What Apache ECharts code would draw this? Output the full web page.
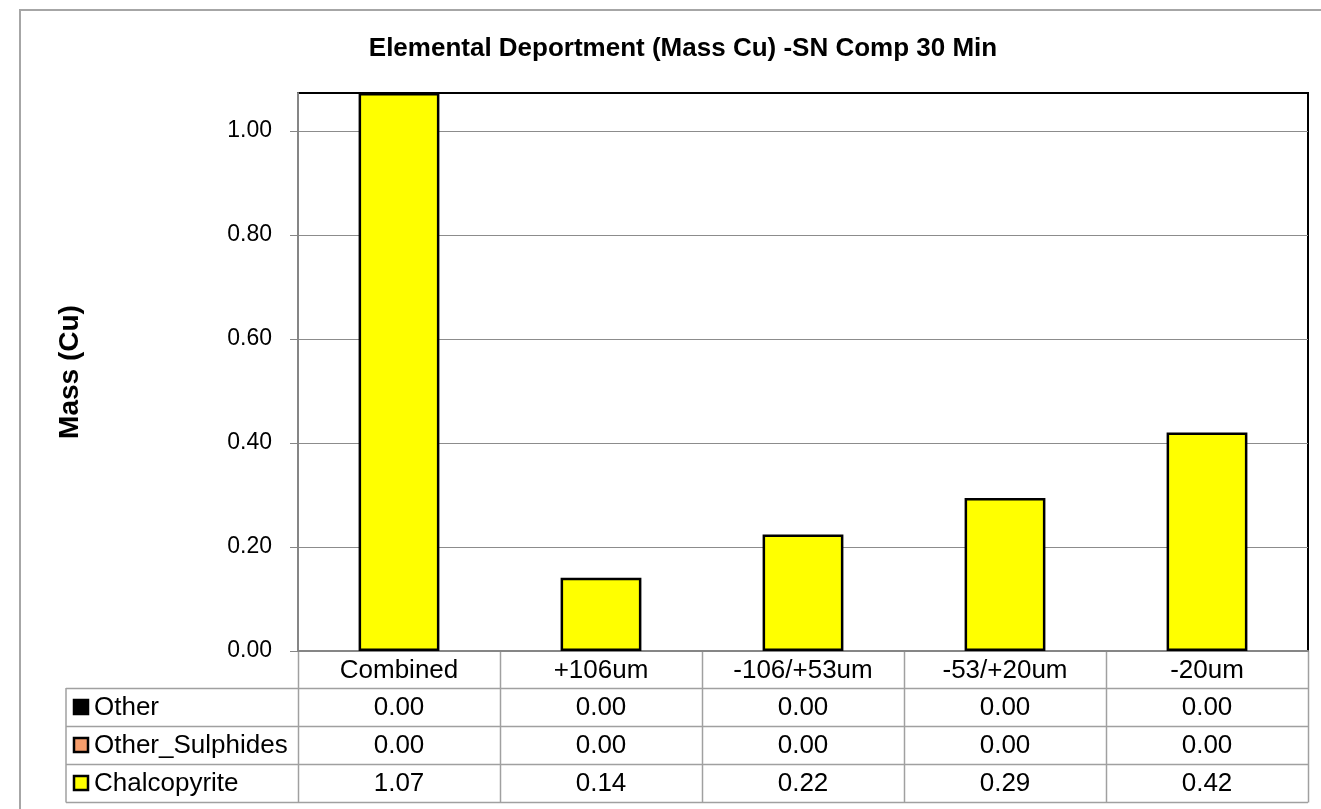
<!DOCTYPE html>
<html><head><meta charset="utf-8">
<script src="https://cdn.jsdelivr.net/npm/echarts@6/dist/echarts.min.js"></script>
<style>html,body{margin:0;padding:0;background:#fff}#c{width:1321px;height:809px}</style>
</head><body><div id="c"></div>
<script>
const categories = ['Combined', '+106um', '-106/+53um', '-53/+20um', '-20um'];
const other = [0.00, 0.00, 0.00, 0.00, 0.00];
const otherSulphides = [0.00, 0.00, 0.00, 0.00, 0.00];
const chalcopyrite = [1.073, 0.141, 0.224, 0.294, 0.420];
const seriesNames = ['Other', 'Other_Sulphides', 'Chalcopyrite'];
const seriesColors = ['#000000', '#F79E6C', '#FFFF00'];
const yTicks = [0, 0.2, 0.4, 0.6, 0.8, 1.0];

const FONT = '"Liberation Sans", Arial, sans-serif';
const G = {left: 298, top: 93, right: 13, bottom: 158};
const chart = echarts.init(document.getElementById('c'));

const seriesData = [other, otherSulphides, chalcopyrite];
chart.setOption({
  animation: false,
  title: {
    text: 'Elemental Deportment (Mass Cu) -SN Comp 30 Min',
    left: 678, top: 31, textAlign: 'center',
    textStyle: {fontFamily: FONT, fontSize: 26, fontWeight: 'bold', color: '#000'}
  },
  grid: {left: G.left, top: G.top, right: G.right, bottom: G.bottom, show: true,
         borderColor: '#000', borderWidth: 2, backgroundColor: 'transparent'},
  xAxis: {
    type: 'category', data: categories,
    axisLine: {lineStyle: {color: '#868686', width: 2}},
    axisTick: {show: false},
    axisLabel: {fontFamily: FONT, fontSize: 26, color: '#000', margin: 7}
  },
  yAxis: {
    type: 'value', min: 0, max: 1.073, interval: 0.2,
    name: 'Mass (Cu)', nameLocation: 'middle', nameGap: 214, nameRotate: 90,
    nameTextStyle: {fontFamily: FONT, fontSize: 28, fontWeight: 'bold', color: '#000'},
    axisLine: {show: true, lineStyle: {color: '#868686', width: 2}},
    axisTick: {show: true, inside: false, length: 8, lineStyle: {color: '#868686'}, customValues: yTicks},
    axisLabel: {fontFamily: FONT, fontSize: 23, color: '#000', margin: 26, padding: [4, 0, 0, 0],
                customValues: yTicks, formatter: v => v.toFixed(2)},
    splitLine: {lineStyle: {color: '#8c8c8c', width: 1}}
  },
  series: seriesNames.map((n, i) => ({
    name: n, type: 'bar', stack: 'total', data: seriesData[i], barWidth: '40%',
    itemStyle: {color: seriesColors[i], borderColor: '#000', borderWidth: i === 2 ? 2.5 : 0}
  }))
});

// Data table below the plot
function buildTable() {
  const g = [];
  const plotBottom = chart.convertToPixel({yAxisIndex: 0}, 0);
  const half = (chart.convertToPixel({xAxisIndex: 0}, 1) - chart.convertToPixel({xAxisIndex: 0}, 0)) / 2;
  const leftEdge = chart.convertToPixel({xAxisIndex: 0}, 0) - half;
  const rightEdge = chart.convertToPixel({xAxisIndex: 0}, categories.length - 1) + half;
  const rowH = 38;
  const headerBottom = plotBottom + 37;
  const tableLeft = 66;
  const lineStyle = {stroke: '#a0a0a0', lineWidth: 1.5};
  const font = '26px ' + FONT;
  g.push({type: 'polyline', shape: {points: [[20, 809], [20, 10], [1321, 10]]}, style: {stroke: '#a6a6a6', lineWidth: 2, fill: null}, silent: true});
  for (let r = 0; r <= seriesNames.length; r++) {
    const y = Math.round(headerBottom + r * rowH) + 0.5;
    g.push({type: 'line', shape: {x1: tableLeft, y1: y, x2: rightEdge, y2: y}, style: lineStyle, silent: true});
  }
  const tableBottom = Math.round(headerBottom + seriesNames.length * rowH) + 0.5;
  g.push({type: 'line', shape: {x1: tableLeft, y1: headerBottom, x2: tableLeft, y2: tableBottom}, style: lineStyle, silent: true});
  for (let c = 0; c <= categories.length; c++) {
    const x = Math.round(leftEdge + c * 2 * half) + 0.5;
    g.push({type: 'line', shape: {x1: x, y1: plotBottom, x2: x, y2: tableBottom}, style: lineStyle, silent: true});
  }
  seriesNames.forEach((n, r) => {
    const yc = headerBottom + r * rowH + rowH / 2;
    g.push({type: 'rect', shape: {x: 74, y: yc - 7, width: 14, height: 14},
            style: {fill: seriesColors[r], stroke: '#000', lineWidth: 2.5}, silent: true});
    g.push({type: 'text', x: 94, y: yc + 1, style: {text: n, font: font, fill: '#000', textVerticalAlign: 'middle', textAlign: 'left'}, silent: true});
    seriesData[r].forEach((v, c) => {
      const xc = chart.convertToPixel({xAxisIndex: 0}, c);
      g.push({type: 'text', x: xc, y: yc + 1, style: {text: v.toFixed(2), font: font, fill: '#000', textVerticalAlign: 'middle', textAlign: 'center'}, silent: true});
    });
  });
  chart.setOption({graphic: g});
}
buildTable();
</script></body></html>
